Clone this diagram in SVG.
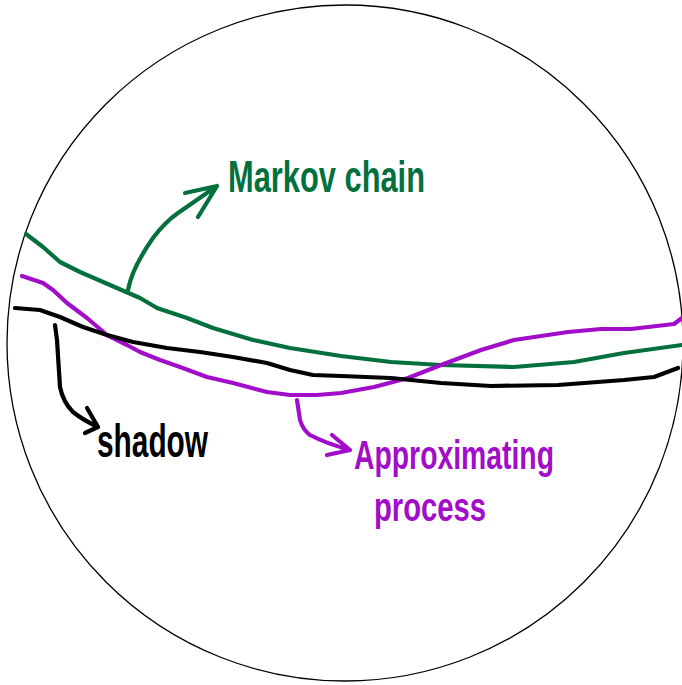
<svg xmlns="http://www.w3.org/2000/svg" width="682" height="685" viewBox="0 0 682 685">
<style>
.ln{fill:none;stroke-width:4.2;stroke-linecap:round;stroke-linejoin:round}
.g{stroke:#04703d}
.p{stroke:#a10dc9}
.k{stroke:#000}
.t{font-family:"Liberation Sans",Arial,sans-serif;font-weight:bold}
</style>
<rect width="682" height="685" fill="#fff"/>
<circle cx="345" cy="343" r="338" fill="none" stroke="#000" stroke-width="1.3"/>
<g id="curves">
<polyline id="markov-curve" class="ln g" points="26,234 43,247 60,262 80,272 110,285 140,298 157,308 187,318 213,328 253,340 290,348 341,356 391,362 441,365 514,367 574,362 624,353 682,345"/>
<polyline id="approx-curve" class="ln p" points="22,276 43,283 53,290 67,303 87,318 107,335 127,345 140,352 160,360 180,367 207,377 233,383 267,392 290,395 317,395 341,393 374,387 408,378 441,365 481,350 514,340 568,332 601,329 631,329 674,324 682,318"/>
<polyline id="shadow-curve" class="ln k" points="15,308 40,310 60,317 83,327 107,335 133,342 167,348 200,352 233,357 267,363 290,370 313,375 341,376 391,378 441,383 491,386 558,385 624,380 654,377 678,368"/>
</g>
<g id="connectors">
<path class="ln g" d="M128,290 Q132,268 153,238 Q165,222 178,213 L217,186 M185,193 L217,186 L198,217"/>
<path class="ln k" d="M55,325 L57,340 L60,387 Q63,402 73,412 Q83,420 98,427 M87,408 L98,427 L85,433"/>
<path class="ln p" d="M297,400 L300,420 Q303,430 310,435 Q325,443 350,450 M332,435 L350,450 L327,455"/>
</g>
<g id="label-markov">
<text class="t" x="228" y="192" font-size="44" fill="#04703d" textLength="197" lengthAdjust="spacingAndGlyphs">Markov chain</text>
</g>
<g id="label-shadow">
<text class="t" x="97" y="457" font-size="46" fill="#000" textLength="111" lengthAdjust="spacingAndGlyphs">shadow</text>
</g>
<g id="label-approx">
<text class="t" x="354" y="469" font-size="40" fill="#a10dc9" textLength="200" lengthAdjust="spacingAndGlyphs">Approximating</text>
<text class="t" x="374" y="521" font-size="40" fill="#a10dc9" textLength="112" lengthAdjust="spacingAndGlyphs">process</text>
</g>
</svg>
